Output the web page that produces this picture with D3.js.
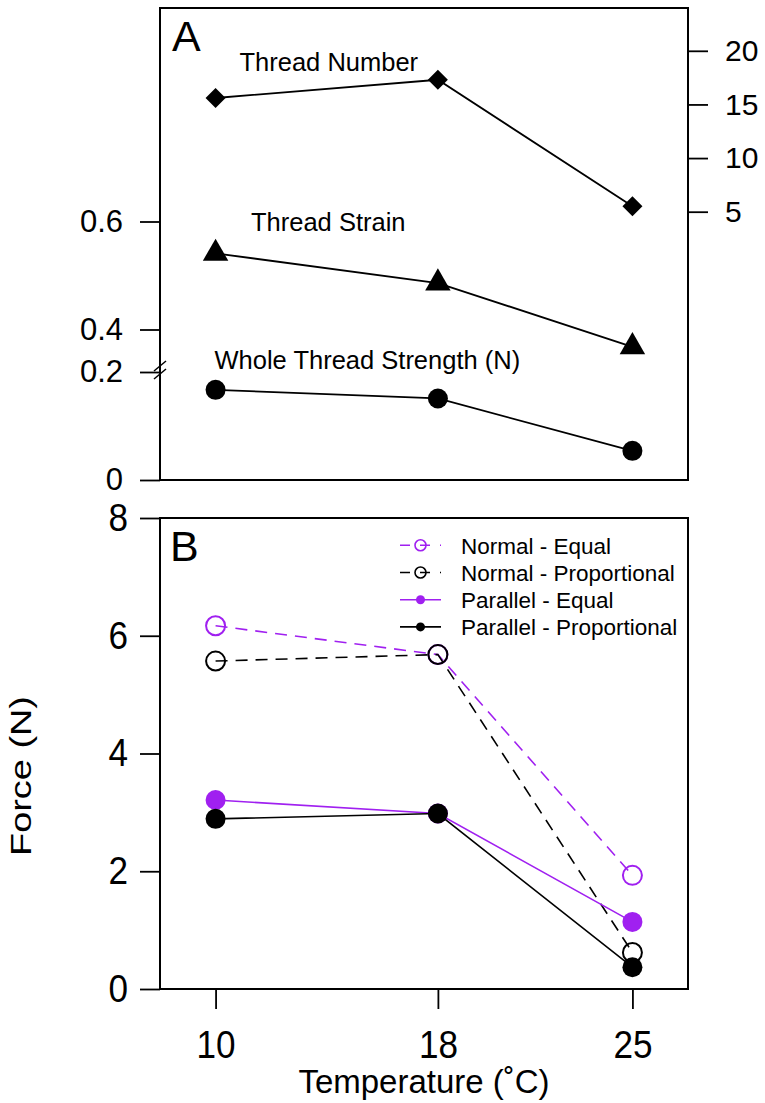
<!doctype html>
<html>
<head>
<script src="https://d3js.org/d3.v7.min.js"></script>
<style>body{margin:0;background:#fff}</style>
</head>
<body>
<script>
var temps = [10, 18, 25];
var threadNumber = [15.6, 17.3, 5.5];
var threadStrain = [0.541, 0.486, 0.368];
var wholeStrength = [0.167, 0.151, 0.054];
var normalEqual = [6.17, 5.68, 1.93];
var normalProp = [5.57, 5.68, 0.62];
var parallelEqual = [3.21, 2.98, 1.14];
var parallelProp = [2.89, 2.98, 0.37];
var legendLabels = ["Normal - Equal", "Normal - Proportional", "Parallel - Equal", "Parallel - Proportional"];
var xTicks = [10, 18, 25];
var leftTicksLow = [0, 0.2];
var leftTicksHigh = [0.4, 0.6];
var rightTicks = [5, 10, 15, 20];
var forceTicks = [0, 2, 4, 6, 8];

var width = 765, height = 1103;
var purple = "#a020f0";
var font = "'Liberation Sans', Arial, Helvetica, sans-serif";

var svg = d3.select("body").append("svg")
  .attr("width", width)
  .attr("height", height);

var x = d3.scaleLinear().domain([8, 27]).range([160, 688]);
// panel A, left axis is broken between 0.2 and 0.4
var yLow = d3.scaleLinear().domain([0, 0.2]).range([480, 372]);
var yHigh = d3.scaleLinear().domain([0.4, 0.6]).range([329.5, 221.5]);
var yRight = d3.scaleLinear().domain([5, 20]).range([211.7, 50.8]);
// panel B
var yB = d3.scaleLinear().domain([0, 8]).range([989, 518]);

var boxA = {top: 8, bottom: 480};
var boxB = {top: yB(8), bottom: yB(0)};

// squeeze text horizontally (the original font is a bit narrow)
function condense(sel, f) {
  sel.each(function() {
    var w = this.getComputedTextLength();
    d3.select(this)
      .attr("textLength", w * f)
      .attr("lengthAdjust", "spacingAndGlyphs");
  });
}

function styleAxis(g, size, f) {
  g.select(".domain").remove();
  g.selectAll("line").attr("stroke", "#000").attr("stroke-width", 1.8);
  g.selectAll("text")
    .attr("font-size", size)
    .attr("font-family", font)
    .attr("fill", "#000");
  if (f) g.selectAll("text").call(condense, f);
}

function box(b) {
  svg.append("rect")
    .attr("x", x.range()[0])
    .attr("y", b.top)
    .attr("width", x.range()[1] - x.range()[0])
    .attr("height", b.bottom - b.top)
    .attr("fill", "none")
    .attr("stroke", "#000")
    .attr("stroke-width", 2);
}

function label(txt, px, py, size, anchor) {
  return svg.append("text")
    .attr("x", px)
    .attr("y", py)
    .attr("font-family", font)
    .attr("font-size", size)
    .attr("text-anchor", anchor || "start")
    .text(txt);
}

// ---------- Panel A ----------
svg.append("g")
  .attr("transform", "translate(160,0)")
  .call(d3.axisLeft(yLow).tickValues(leftTicksLow).tickSize(20).tickPadding(17)
    .tickFormat(function(d) { return d === 0 ? "0" : d3.format(".1f")(d); }))
  .call(styleAxis, 31);

svg.append("g")
  .attr("transform", "translate(160,0)")
  .call(d3.axisLeft(yHigh).tickValues(leftTicksHigh).tickSize(20).tickPadding(17)
    .tickFormat(d3.format(".1f")))
  .call(styleAxis, 31);

svg.append("g")
  .attr("transform", "translate(688,0)")
  .call(d3.axisRight(yRight).tickValues(rightTicks).tickSize(20).tickPadding(17))
  .call(styleAxis, 30);

box(boxA);

// axis break marks
var brk = yLow(0.2) - 6;
[0, 8].forEach(function(o) {
  svg.append("line")
    .attr("x1", 154).attr("y1", brk + o + 5)
    .attr("x2", 166).attr("y2", brk + o - 5)
    .attr("stroke", "#000").attr("stroke-width", 1.5);
});

function series(vals, yScale) {
  return vals.map(function(v, i) { return [x(temps[i]), yScale(v)]; });
}

var line = d3.line();

var ptsNum = series(threadNumber, yRight);
var ptsStrain = series(threadStrain, yHigh);
var ptsWhole = series(wholeStrength, yLow);

[ptsNum, ptsStrain, ptsWhole].forEach(function(p) {
  svg.append("path")
    .attr("d", line(p))
    .attr("fill", "none")
    .attr("stroke", "#000")
    .attr("stroke-width", 1.8);
});

svg.selectAll(".diamond")
  .data(ptsNum)
  .enter()
  .append("path")
    .attr("class", "diamond")
    .attr("d", d3.symbol().type(d3.symbolSquare).size(200))
    .attr("transform", function(d) { return "translate(" + d[0] + "," + d[1] + ") rotate(45)"; })
    .attr("fill", "#000");

// R style filled triangle (pch 17)
var tr = 14.7;
var triPath = "M0," + (-tr) + "L" + (tr * 0.866) + "," + (tr / 2) + "L" + (-tr * 0.866) + "," + (tr / 2) + "Z";
svg.selectAll(".tri")
  .data(ptsStrain)
  .enter()
  .append("path")
    .attr("class", "tri")
    .attr("d", triPath)
    .attr("transform", function(d) { return "translate(" + d[0] + "," + d[1] + ")"; })
    .attr("fill", "#000");

svg.selectAll(".dotA")
  .data(ptsWhole)
  .enter()
  .append("circle")
    .attr("class", "dotA")
    .attr("cx", function(d) { return d[0]; })
    .attr("cy", function(d) { return d[1]; })
    .attr("r", 10)
    .attr("fill", "#000");

label("A", 172, 51, 43);
label("Thread Number", 239.5, 71, 25.5);
label("Thread Strain", 251, 231, 25.5);
label("Whole Thread Strength (N)", 214.5, 368.5, 25.5);

// ---------- Panel B ----------
svg.append("g")
  .attr("transform", "translate(160,0)")
  .call(d3.axisLeft(yB).tickValues(forceTicks).tickSize(20).tickPadding(12))
  .call(styleAxis, 39, 0.9);

svg.append("g")
  .attr("transform", "translate(0," + boxB.bottom + ")")
  .call(d3.axisBottom(x).tickValues(xTicks).tickSize(20).tickPadding(21))
  .call(styleAxis, 39, 0.9);

box(boxB);

var seriesB = [
  {name: legendLabels[0], vals: normalEqual, color: purple, dashed: true, filled: false},
  {name: legendLabels[1], vals: normalProp, color: "#000", dashed: true, filled: false},
  {name: legendLabels[2], vals: parallelEqual, color: purple, dashed: false, filled: true},
  {name: legendLabels[3], vals: parallelProp, color: "#000", dashed: false, filled: true}
];

seriesB.forEach(function(s) {
  var p = series(s.vals, yB);
  svg.append("path")
    .attr("d", line(p))
    .attr("fill", "none")
    .attr("stroke", s.color)
    .attr("stroke-width", 1.6)
    .attr("stroke-dasharray", s.dashed ? "12,8" : null);
  svg.selectAll(null)
    .data(p)
    .enter()
    .append("circle")
      .attr("cx", function(d) { return d[0]; })
      .attr("cy", function(d) { return d[1]; })
      .attr("r", s.filled ? 10 : 9.5)
      .attr("fill", s.filled ? s.color : "none")
      .attr("stroke", s.filled ? "none" : s.color)
      .attr("stroke-width", 2);
});

// legend
var legend = svg.append("g").attr("transform", "translate(400,545.3)");
seriesB.forEach(function(s, i) {
  var row = legend.append("g").attr("transform", "translate(0," + (i * 27.2) + ")");
  row.append("line")
    .attr("x1", 0).attr("x2", 41)
    .attr("stroke", s.color)
    .attr("stroke-width", 1.6)
    .attr("stroke-dasharray", s.dashed ? "10,10" : null);
  row.append("circle")
    .attr("cx", 20.5)
    .attr("r", s.filled ? 4.5 : 5.5)
    .attr("fill", s.filled ? s.color : "none")
    .attr("stroke", s.filled ? "none" : s.color)
    .attr("stroke-width", 1.6);
  row.append("text")
    .attr("x", 61)
    .attr("y", 8.2)
    .attr("font-family", font)
    .attr("font-size", 22.5)
    .text(s.name);
});

label("B", 170, 561, 43);

label("Temperature (\u02daC)", 424, 1093, 33, "middle");

svg.append("text")
  .attr("transform", "translate(31,776) rotate(-90)")
  .attr("text-anchor", "middle")
  .attr("font-family", font)
  .attr("font-size", 29)
  .attr("textLength", 160)
  .attr("lengthAdjust", "spacingAndGlyphs")
  .text("Force (N)");
</script>
</body>
</html>
